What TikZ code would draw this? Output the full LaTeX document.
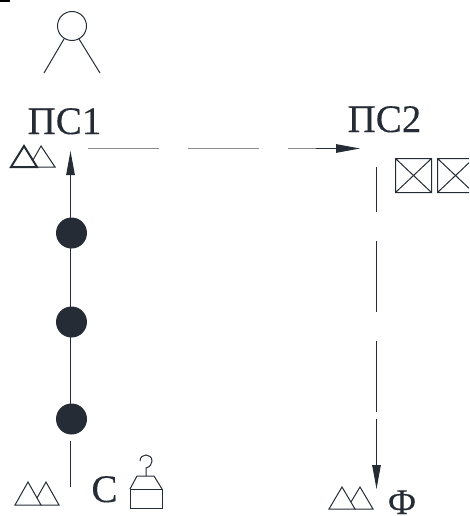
\documentclass[tikz,border=0pt]{standalone}
\usepackage{fontspec}
\setmainfont[BoldFont={Liberation Serif},BoldFeatures={FakeBold=0.25}]{Liberation Serif}
\definecolor{ink}{HTML}{262C35}
\definecolor{gr}{HTML}{8C8C8C}
\usetikzlibrary{arrows.meta}
\tikzset{
  lab/.style={inner sep=0pt,outer sep=0pt,anchor=base,text=ink,font=\fontsize{39}{39}\bfseries\selectfont},
  dot/.style={circle,fill=ink,draw=none,minimum size=31pt,inner sep=0pt},
  thin line/.style={draw=ink,line width=1pt},
  grey line/.style={draw=gr,line width=1.3pt},
  icon/.style={draw=ink,line width=1pt,line join=miter},
  headed/.style={-{Triangle[length=24pt,width=8.5pt,fill=ink,color=ink]}}
}
\begin{document}
\begin{tikzpicture}[x=1pt,y=-1pt]
\useasboundingbox (0,0) rectangle (469,516);
\clip (0,0) rectangle (469,516);
\fill[black] (0,0) rectangle (10,2);
% person
\node[circle,icon,minimum size=29pt,inner sep=0pt] (head) at (72,26) {};
\coordinate (legL) at (44,73);
\coordinate (legR) at (100,73);
\draw[icon] (64,39) -- (legL);
\draw[icon] (79,39) -- (legR);
% labels
\node[lab] (ps1) at (64.5,134) {ПС1};
\node[lab] (ps2) at (384.5,132) {ПС2};
\node[lab] (c) at (104.5,502) {С};
\node[lab,font=\fontsize{36}{36}\bfseries\selectfont] (f) at (402,514) {Ф};
% triangles top-left
\draw[draw=ink,line width=2pt,line join=miter] (11,167) -- (24,146) -- (37,167) -- cycle;
\draw[icon] (33,160) -- (41,146) -- (55,167) -- (37,167);
% left column
\node[dot] (d1) at (71.5,233) {};
\node[dot] (d2) at (71.5,322) {};
\node[dot] (d3) at (71.5,419) {};
\coordinate (topEnd) at (70.5,151);
\coordinate (botEnd) at (70.5,487);
\coordinate (botStart) at (70.5,441);
\draw[thin line,headed] (d1 -| topEnd) -- (topEnd);
\draw[thin line] (d1 -| topEnd) -- (d2 -| topEnd);
\draw[thin line] (d2 -| topEnd) -- (d3 -| topEnd);
\draw[thin line] (botStart) -- (botEnd);
% horizontal dashes
\coordinate (h1) at (88,148.5);
\coordinate (h2) at (159,148.5);
\coordinate (h3) at (188,148.5);
\coordinate (h4) at (259,148.5);
\coordinate (h5) at (288,148.5);
\coordinate (hm) at (316,148.5);
\coordinate (h6) at (360,148.5);
\draw[grey line] (h1) -- (h2);
\draw[grey line] (h3) -- (h4);
\draw[grey line] (h5) -- (hm);
\draw[thin line,headed] (hm) -- (h6);
% vertical dashes
\coordinate (v1) at (376.5,167);
\coordinate (v2) at (376.5,212);
\coordinate (v3) at (376.5,241);
\coordinate (v4) at (376.5,312);
\coordinate (v5) at (376.5,341);
\coordinate (v6) at (376.5,412);
\coordinate (v7) at (376.5,419);
\coordinate (v8) at (376.5,489);
\draw[thin line] (v1) -- (v2);
\draw[thin line] (v3) -- (v4);
\draw[thin line] (v5) -- (v6);
\draw[thin line,headed] (v7) -- (v8);
% crossed squares
\draw[icon] (395.5,158.5) rectangle (431.5,192.5) (395.5,158.5) -- (431.5,192.5) (395.5,192.5) -- (431.5,158.5);
\draw[icon] (437.5,158.5) rectangle (473.5,192.5) (437.5,158.5) -- (473.5,192.5) (437.5,192.5) -- (473.5,158.5);
% triangles bottom-left
\draw[icon] (15,505) -- (28,482) -- (41,505) -- cycle;
\draw[icon] (37,498) -- (46,482) -- (59,505) -- (41,505);
% weight
\draw[icon] (130,489) rectangle (162,508);
\draw[icon] (130,489) -- (137,476) -- (154,476) -- (162,489);
\draw[icon] (146,476) -- (146,468) .. controls (150,467) and (152,464) .. (152,461) .. controls (152,457) and (149,455) .. (146,455) .. controls (143,455) and (140,457) .. (140,461);
% triangles bottom-right
\draw[icon] (329,509) -- (342,487) -- (355,509) -- cycle;
\draw[icon] (351,502) -- (360,487) -- (373,509) -- (355,509);
\end{tikzpicture}
\end{document}
